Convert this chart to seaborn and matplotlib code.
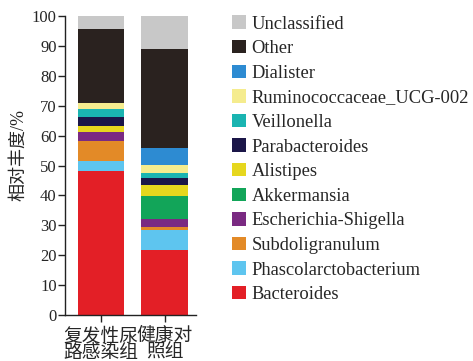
import matplotlib
matplotlib.use("Agg")
import matplotlib.pyplot as plt
import seaborn as sns
import numpy as np
import pandas as pd
from matplotlib.patches import Patch

groups = ["复发性尿\n路感染组", "健康对\n照组"]
# stacked from bottom to top
taxa = ["Bacteroides", "Phascolarctobacterium", "Subdoligranulum",
        "Escherichia-Shigella", "Akkermansia", "Alistipes", "Parabacteroides",
        "Veillonella", "Ruminococcaceae_UCG-002", "Dialister", "Other", "Unclassified"]
rutis = [48.1, 3.4, 6.6, 3.2, 0.0, 2.0, 2.8, 2.8, 1.9, 0.0, 24.7, 4.5]
healthy = [21.7, 6.7, 0.9, 2.7, 7.8, 3.7, 2.2, 1.7, 2.8, 5.5, 33.2, 11.1]
colors = ["#e31f26", "#5ec5ef", "#e38a27", "#7a2a82", "#12a559", "#e6d71e",
          "#1b1648", "#1ab4b1", "#f5ec8e", "#2d8bd2", "#2a221f", "#c8c8c8"]

sns.set_theme(style="white")
plt.rcParams["font.family"] = ["Liberation Serif", "Noto Sans CJK SC"]

fig = plt.figure(figsize=(4.73, 3.61), dpi=100)
ax = fig.add_axes([0.1374, 0.1274, 0.277, 0.8283])

df = pd.DataFrame({"group": np.repeat(groups, len(taxa)),
                   "taxon": taxa * 2,
                   "value": rutis + healthy})
df["cum"] = df.groupby("group", sort=False)["value"].cumsum()

for i in range(len(taxa) - 1, -1, -1):
    sub = df[df["taxon"] == taxa[i]]
    sns.barplot(data=sub, x="group", y="cum", order=groups, color=colors[i],
                width=0.73, saturation=1, ax=ax, linewidth=0)

ax.set_xlim(-0.5625, 1.49)
ax.set_ylim(0, 100)
ax.set_yticks(range(0, 101, 10))
ax.set_xlabel("")
ax.set_ylabel("相对丰度/%", fontsize=13)
ax.yaxis.set_label_coords(-0.29, 0.535)
for s in ["top", "right"]:
    ax.spines[s].set_visible(False)
for s in ["left", "bottom"]:
    ax.spines[s].set_color("#222222")
    ax.spines[s].set_linewidth(1.0)
ax.tick_params(axis="both", direction="out", length=5, width=1, color="#222222",
               left=True, bottom=True)
ax.tick_params(axis="y", labelsize=12, pad=1)
ax.tick_params(axis="x", labelsize=13.5, pad=4)
for t in ax.get_xticklabels():
    t.set_linespacing(0.95)
    t.set_fontweight("medium")

handles = [Patch(facecolor=colors[i], edgecolor="none", label=taxa[i])
           for i in range(len(taxa) - 1, -1, -1)]
fig.legend(handles=handles, loc="upper left", bbox_to_anchor=(0.475, 0.978),
           frameon=False, fontsize=13.3, handlelength=0.75, handleheight=0.75,
           handletextpad=0.3, labelspacing=0.4, borderaxespad=0)

fig.savefig("out.png", dpi=100)
